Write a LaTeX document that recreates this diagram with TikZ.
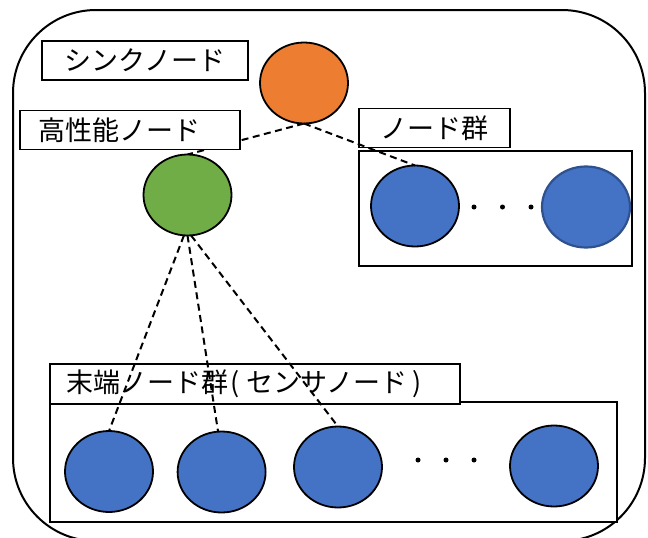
\documentclass[tikz,border=0pt]{standalone}
\usepackage{fontspec}
\newfontfamily\jpfont{Noto Sans CJK JP}
\usetikzlibrary{shapes.geometric,backgrounds}
\definecolor{sinkorange}{HTML}{ED7D31}
\definecolor{hpgreen}{HTML}{70AD47}
\definecolor{nodeblue}{HTML}{4472C4}
\definecolor{blueedge}{HTML}{2F528F}

\begin{document}
\begin{tikzpicture}[x=1pt,y=-1pt,
  every node/.style={inner sep=0pt, outer sep=0pt},
  netnode/.style={ellipse, draw=black, line width=1.8pt, minimum width=88pt, minimum height=81pt},
  labelbox/.style={rectangle, draw=black, fill=white, line width=1.8pt,
    font={\jpfont\fontsize{27pt}{30pt}\selectfont}, minimum height=39pt},
  groupbox/.style={rectangle, draw=black, fill=white, line width=1.8pt},
  link/.style={draw=black, line width=2pt, dash pattern=on 7pt off 4.5pt},
  dotmark/.style={circle, fill=black, minimum size=5pt}
]
\useasboundingbox (0,0) rectangle (648,538);
\clip (0,0) rectangle (648,538);

% outer frame of the network
\draw[line width=2pt, rounded corners=83pt] (13,10) rectangle (645,541);

% sink node and high-performance node
\node[labelbox, minimum width=206pt] (sinklabel) at (145,60.5) {シンクノード};
\node[netnode, fill=sinkorange] (sink) at (304,83) {};

\node[labelbox, minimum width=220pt, inner xsep=18pt, text width=184pt, align=left]
  (hplabel) at (130,130) {高性能ノード};
\node[netnode, fill=hpgreen] (hp) at (187.5,195) {};

% node group on the right
\node[labelbox, minimum width=151pt] (grouplabel) at (434.5,128) {ノード群};
\node[groupbox, minimum width=273pt, minimum height=115pt] (groupbox) at (495.5,208.5) {};
\node[netnode, fill=nodeblue] (g1) at (415,206) {};
\node[netnode, fill=nodeblue, draw=blueedge, line width=2.2pt] (g2) at (586,207) {};
\node[dotmark] (gd1) at (474,207) {};
\node[dotmark] (gd2) at (502.5,207) {};
\node[dotmark] (gd3) at (531,207) {};

% terminal (sensor) nodes
\node[groupbox, minimum width=567pt, minimum height=120pt] (termbox) at (333.5,462) {};
\node[labelbox, minimum width=410pt, minimum height=40pt, inner xsep=16pt, text width=378pt, align=left]
  (termlabel) at (255,384) {末端ノード群\kern3pt(\kern6pt センサノード\kern5pt)};
\node[netnode, fill=nodeblue] (e1) at (109,471.5) {};
\node[netnode, fill=nodeblue] (e2) at (221.6,472) {};
\node[netnode, fill=nodeblue] (e3) at (338,467) {};
\node[netnode, fill=nodeblue] (e4) at (554,466) {};
\node[dotmark] (ed1) at (418,460) {};
\node[dotmark] (ed2) at (446,460) {};
\node[dotmark] (ed3) at (474,460) {};

% links
\begin{pgfonlayer}{background}
  \draw[link] (sink.south) -- (hp.north);
\end{pgfonlayer}
\draw[link] (sink.south) -- (g1.north);
\draw[link] (hp.265) -- (e1.north);
\draw[link] (hp.south) -- (e2.95);
\draw[link] (hp.275) -- (e3.north);
\end{tikzpicture}
\end{document}
